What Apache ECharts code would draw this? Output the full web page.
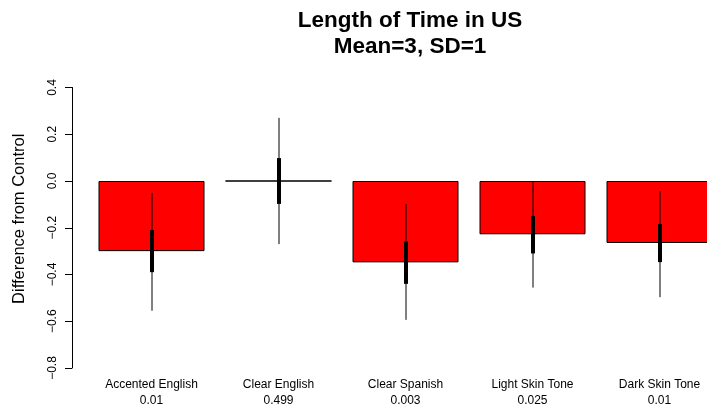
<!DOCTYPE html>
<html>
<head>
<meta charset="utf-8">
<script src="https://cdn.jsdelivr.net/npm/echarts@6/dist/echarts.min.js"></script>
<style>
  html, body { margin: 0; padding: 0; background: #fff; }
  #chart { width: 707px; height: 408px; }
</style>
</head>
<body>
<div id="chart"></div>
<script>
// Treatment conditions and their p-values (shown under each bar)
const categories = ['Accented English', 'Clear English', 'Clear Spanish', 'Light Skin Tone', 'Dark Skin Tone'];
const pValues = ['0.01', '0.499', '0.003', '0.025', '0.01'];

// Estimated difference from control
const differences = [-0.30, 0.0, -0.348, -0.228, -0.265];

// Wide interval (thin whisker) bounds
const wideLow = [-0.555, -0.27, -0.594, -0.456, -0.497];
const wideHigh = [-0.052, 0.27, -0.099, 0.0, -0.043];

// Narrow interval (thick whisker) bounds
const narrowLow = [-0.39, -0.098, -0.44, -0.31, -0.347];
const narrowHigh = [-0.21, 0.098, -0.258, -0.15, -0.184];

// Y axis ticks
const yTicks = [-0.8, -0.6, -0.4, -0.2, 0.0, 0.2, 0.4];

const FONT = 'Liberation Sans, Arial, Helvetica, sans-serif';

const whiskerData = categories.map((c, i) => [i, wideLow[i], wideHigh[i], narrowLow[i], narrowHigh[i]]);

const chart = echarts.init(document.getElementById('chart'), null, { renderer: 'canvas' });

chart.setOption({
  animation: false,
  backgroundColor: '#ffffff',
  title: {
    text: 'Length of Time in US\nMean=3, SD=1',
    left: 405,
    top: 3,
    textAlign: 'center',
    textStyle: {
      fontFamily: FONT,
      fontWeight: 'bold',
      fontSize: 22.5,
      lineHeight: 26,
      color: '#000'
    }
  },
  grid: {
    left: 88,
    top: 87.5,
    bottom: 40,
    right: -16,
    containLabel: false,
    outerBoundsMode: 'none'
  },
  xAxis: {
    type: 'category',
    data: categories,
    axisLine: { show: false },
    axisTick: { show: false },
    axisLabel: {
      interval: 0,
      margin: 9,
      fontFamily: FONT,
      fontSize: 12,
      lineHeight: 16,
      color: '#000',
      formatter: (v, i) => v + '\n' + pValues[i]
    }
  },
  yAxis: {
    type: 'value',
    min: yTicks[0],
    max: yTicks[yTicks.length - 1],
    interval: 0.2,
    offset: 16,
    splitLine: { show: false },
    axisLine: { show: true, lineStyle: { color: '#000', width: 1 } },
    axisTick: { show: true, length: 7, lineStyle: { color: '#000' } },
    axisLabel: {
      rotate: 90,
      margin: 13,
      fontFamily: FONT,
      fontSize: 12,
      color: '#000',
      formatter: v => v.toFixed(1).replace('-', '\u2212')
    },
    name: 'Difference from Control',
    nameLocation: 'middle',
    nameRotate: 90,
    nameGap: 44,
    nameTextStyle: {
      fontFamily: FONT,
      fontSize: 16.5,
      color: '#000',
      padding: [0, 0, 0, 18]
    }
  },
  series: [
    {
      type: 'bar',
      data: differences,
      barWidth: 106,
      itemStyle: {
        color: '#ff0000',
        borderColor: '#000',
        borderWidth: 1
      },
      z: 2
    },
    {
      type: 'custom',
      data: whiskerData,
      z: 5,
      renderItem: (params, api) => {
        const x = api.value(0);
        const pWL = api.coord([x, api.value(1)]);
        const pWH = api.coord([x, api.value(2)]);
        const pNL = api.coord([x, api.value(3)]);
        const pNH = api.coord([x, api.value(4)]);
        const cx = Math.round(pWL[0]);
        return {
          type: 'group',
          children: [
            {
              type: 'line',
              shape: { x1: cx, y1: pWL[1], x2: cx, y2: pWH[1] },
              style: { stroke: '#000', lineWidth: 1 }
            },
            {
              type: 'line',
              shape: { x1: cx, y1: pNL[1], x2: cx, y2: pNH[1] },
              style: { stroke: '#000', lineWidth: 4 }
            }
          ]
        };
      }
    }
  ]
});
</script>
</body>
</html>
